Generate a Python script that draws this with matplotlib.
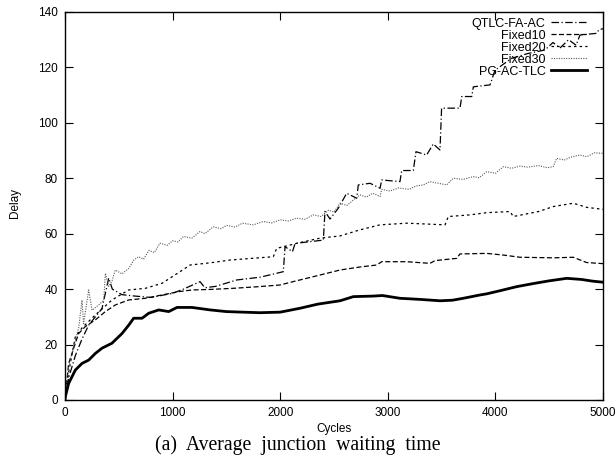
import matplotlib
matplotlib.use("Agg")
import matplotlib.pyplot as plt

plt.rcParams['font.family'] = ['Liberation Sans', 'DejaVu Sans']

# PG-AC-TLC (solid)
pg_x = [0, 3, 34, 96, 158, 220, 282, 344, 437, 530, 592, 638, 716, 778, 871, 964, 1041, 1180, 1350,
        1500, 1650, 1812, 2000, 2184, 2350, 2556, 2680, 2866, 2950, 3113, 3300, 3485, 3600, 3702,
        3857, 3919, 4050, 4198, 4350, 4500, 4663, 4800, 4900, 5000]
pg_y = [0, 1.2, 6, 10.8, 13.2, 14.4, 16.8, 18.7, 20.5, 24, 27, 29.5, 29.5, 31.3, 32.5, 31.9, 33.4, 33.4, 32.5,
        31.9, 31.7, 31.5, 31.7, 33.1, 34.6, 35.8, 37.3, 37.5, 37.7, 36.7, 36.3, 35.8, 36.0, 36.7,
        37.9, 38.3, 39.5, 40.9, 42.0, 43.0, 43.9, 43.5, 42.9, 42.5]

# Fixed10 (dashed)
f10_x = [0, 34, 96, 127, 189, 282, 375, 468, 592, 747, 901, 1057, 1180, 1350, 1564, 1800, 1998, 2150,
         2308, 2556, 2742, 2897, 2943, 3176, 3392, 3439, 3640, 3671, 3919, 4074, 4229, 4538, 4724,
         4848, 5000]
f10_y = [0, 13.2, 20.5, 24, 26.5, 28.9, 31.9, 34.3, 36.1, 36.7, 37.9, 39.1, 39.7, 39.9, 40.3, 40.9, 41.5, 43.0,
         44.5, 46.9, 48.0, 48.7, 49.9, 49.9, 49.3, 50.3, 51.1, 52.7, 52.9, 52.3, 51.5, 51.3, 51.5,
         49.6, 49.2]

# Fixed20 (short dashes)
f20_x = [0, 34, 96, 158, 282, 437, 592, 747, 901, 1069, 1162, 1350, 1533, 1700, 1936, 1967, 2150,
         2370, 2556, 2742, 2928, 3176, 3532, 3562, 3764, 3919, 4136, 4166, 4400, 4538, 4724, 4850, 5000]
f20_y = [0, 10, 22.8, 26, 30.7, 36.1, 39.7, 40.3, 42.1, 46.3, 48.7, 49.5, 50.5, 51.0, 51.7, 54.7, 56.5,
         58.4, 59.2, 61.4, 63.2, 63.8, 63.2, 66.2, 66.8, 67.6, 68.0, 66.2, 68.0, 69.8, 71.0, 69.5, 68.8]

# Fixed30 (dotted)
f30_x = [0, 34, 96, 127, 158, 173, 220, 251, 313, 360, 375, 406, 437, 468, 530, 592, 640, 685, 730,
         780, 830, 883, 950, 1000, 1050, 1100, 1180, 1255, 1300, 1378, 1450, 1500, 1580, 1650, 1750,
         1843, 1920, 2000, 2080, 2150, 2230, 2308, 2380, 2450, 2500, 2556, 2620, 2680, 2742, 2800,
         2860, 2928, 2943, 3020, 3100, 3200, 3260, 3330, 3392, 3470, 3547, 3609, 3700, 3795, 3850,
         3919, 4000, 4074, 4150, 4230, 4300, 4400, 4480, 4538, 4569, 4640, 4700, 4786, 4850, 4920, 5000]
f30_y = [0, 12, 21.6, 26, 36, 27.5, 39.7, 32.4, 34.3, 36, 45.7, 41, 43, 46.9, 45.5, 47.5, 50.5, 51.7, 50.8,
         54, 53.2, 56.6, 55.8, 57.5, 57.0, 59, 58.4, 60.8, 60.0, 62.5, 61.8, 63, 62.4, 63.8, 63.2,
         64.4, 63.9, 65, 64.6, 65.6, 65.2, 66.8, 66.2, 68.5, 67.8, 71, 70.2, 72.2, 74, 73.2,
         74.6, 73.4, 76, 75.4, 76.5, 76.0, 77.2, 77.6, 78.8, 78.2, 77.6, 80, 79.6, 80.6, 80.2,
         82.4, 81.8, 84.2, 83.6, 84.4, 84.0, 84.6, 83.8, 84.2, 87.2, 86.6, 87.6, 88.4, 87.8, 89.2, 89.0]

# QTLC-FA-AC (dash-dot)
qt_x = [0, 34, 96, 158, 220, 282, 344, 406, 440, 530, 650, 800, 1000, 1100, 1255, 1300, 1400, 1595,
        1812, 2029, 2045, 2114, 2138, 2401, 2416, 2463, 2540, 2618, 2680, 2711, 2726, 2835, 2928,
        2943, 3113, 3129, 3237, 3262, 3361, 3423, 3485, 3500, 3671, 3687, 3780, 3795, 3950, 3996,
        4151, 4300, 4461, 4535, 4600, 4680, 4750, 4786, 4941, 4960, 5000]
qt_y = [0, 8, 16, 22, 27, 30, 33, 44, 40, 38, 37.5, 37, 38.5, 40, 42.7, 40.5, 41, 43.3,
        44.3, 46.3, 55.3, 53.5, 56.5, 57.7, 68, 65.3, 69.2, 74.6, 73.4, 72.8, 77.6, 78.2, 76.4,
        79.4, 78.8, 82.8, 82.8, 89.6, 88.4, 92.4, 90.2, 105.3, 105.3, 109.5, 109.5, 113, 113.7, 119,
        123.3, 125, 126.3, 129, 127, 130, 128, 131.7, 132.3, 133.5, 134]

fig = plt.figure(figsize=(6.16, 4.59), dpi=100)
ax = fig.add_axes([65 / 616, 1 - 400 / 459, 538 / 616, 388 / 459])

ax.plot(qt_x, qt_y, color='k', lw=0.9, dashes=(6, 2, 1, 2), label='QTLC-FA-AC')
ax.plot(f10_x, f10_y, color='k', lw=0.9, dashes=(4, 2), label='Fixed10')
ax.plot(f20_x, f20_y, color='k', lw=0.9, dashes=(2, 2.5), label='Fixed20')
ax.plot(f30_x, f30_y, color='0.35', lw=0.8, dashes=(1, 1.2), label='Fixed30')
ax.plot(pg_x, pg_y, color='k', lw=2.0, label='PG-AC-TLC')

ax.set_xlim(0, 5000)
ax.set_ylim(0, 140)
ax.set_xticks(range(0, 5001, 1000))
ax.set_yticks(range(0, 141, 20))
ax.tick_params(direction='in', length=6, width=0.8, top=True, right=True, labelsize=8.5, pad=5)
for s in ax.spines.values():
    s.set_linewidth(1.0)

leg = ax.legend(loc='upper right', frameon=False, markerfirst=False, fontsize=9,
                handlelength=2.9, handletextpad=0.45, labelspacing=0.0,
                borderaxespad=0.2, bbox_to_anchor=(0.985, 1.005))
for col in leg._legend_handle_box.get_children():
    col.align = 'right'

fig.text(334 / 616, 1 - 429 / 459, 'Cycles', ha='center', va='center', fontsize=8.5)
fig.text(14.5 / 616, 1 - 203 / 459, 'Delay', ha='center', va='center', rotation=90, fontsize=8.5)
fig.text(298 / 616, 1 - 445 / 459, '(a)  Average  junction  waiting  time', ha='center', va='center',
         fontsize=14.2, family=['Liberation Serif', 'DejaVu Serif'])

fig.savefig('out.png', dpi=100)
